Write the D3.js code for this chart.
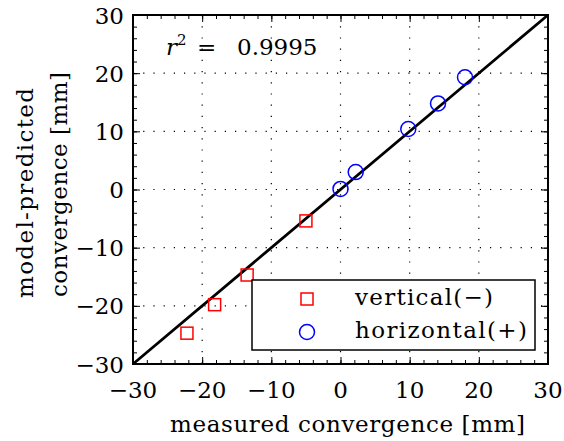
<!DOCTYPE html>
<html>
<head>
<meta charset="utf-8">
<script src="https://cdn.jsdelivr.net/npm/d3@7"></script>
<style>
body { margin: 0; background: #fff; }
text { font-family: "DejaVu Serif", serif; fill: #000; }
</style>
</head>
<body>
<div id="vis_canvas"></div>
<script>
// data
var vert_x = [-22.2, -18.2, -13.5, -5.0];
var vert_y = [-24.7, -19.8, -14.7, -5.4];
var horiz_x = [0.0, 2.2, 9.8, 14.1, 18.0];
var horiz_y = [0.1, 3.0, 10.4, 14.8, 19.3];
var ticks = [-30, -20, -10, 0, 10, 20, 30];
var minor_ticks = d3.range(-30, 31, 2);
var r2_text = "0.9995";
var legend_labels = ["vertical(\u2212)", "horizontal(+)"];

var W = 564, H = 441;
var m_left = 133, m_right = 548, m_top = 15, m_bottom = 364;
var fs = "23px";

var x = d3.scaleLinear().domain([-30, 30]).range([m_left, m_right]);
var y = d3.scaleLinear().domain([-30, 30]).range([m_bottom, m_top]);

var svg = d3.select("#vis_canvas").append("svg")
    .attr("width", W).attr("height", H);

// dotted grid
svg.append("g").selectAll("line").data(ticks.slice(1, -1)).enter()
    .append("line")
    .attr("x1", function(d){ return x(d); }).attr("x2", function(d){ return x(d); })
    .attr("y1", m_top).attr("y2", m_bottom)
    .attr("stroke", "#000").attr("stroke-width", 1.2)
    .attr("stroke-dasharray", "1.2,10");
svg.append("g").selectAll("line").data(ticks.slice(1, -1)).enter()
    .append("line")
    .attr("y1", function(d){ return y(d); }).attr("y2", function(d){ return y(d); })
    .attr("x1", m_left).attr("x2", m_right)
    .attr("stroke", "#000").attr("stroke-width", 1.2)
    .attr("stroke-dasharray", "1.2,9");

// axes (ticks inward, minor ticks too)
var fmt = function(d){ return d < 0 ? "\u2212" + Math.abs(d) : d; };
function ax(gen, tx, ty, size, vals) {
  var g = svg.append("g").attr("transform", "translate(" + tx + "," + ty + ")")
    .call(gen.tickValues(vals).tickSize(size).tickSizeOuter(0).tickFormat(""));
  g.select(".domain").remove();
  g.selectAll(".tick line").attr("stroke", "#000").attr("stroke-width", 1);
  return g;
}
ax(d3.axisTop(x), 0, m_bottom, 4, minor_ticks);
ax(d3.axisTop(x), 0, m_bottom, 7, ticks);
ax(d3.axisBottom(x), 0, m_top, 4, minor_ticks);
ax(d3.axisBottom(x), 0, m_top, 7, ticks);
ax(d3.axisRight(y), m_left, 0, 4, minor_ticks);
ax(d3.axisRight(y), m_left, 0, 7, ticks);
ax(d3.axisLeft(y), m_right, 0, 4, minor_ticks);
ax(d3.axisLeft(y), m_right, 0, 7, ticks);

// tick labels
svg.append("g").selectAll("text").data(ticks).enter().append("text")
    .attr("x", function(d){ return x(d); }).attr("y", m_bottom + 34)
    .attr("text-anchor", "middle").style("font-size", fs)
    .text(fmt);
svg.append("g").selectAll("text").data(ticks).enter().append("text")
    .attr("x", m_left - 9).attr("y", function(d){ return y(d) + 8.5; })
    .attr("text-anchor", "end").style("font-size", fs)
    .text(fmt);

// frame
svg.append("rect").attr("x", m_left).attr("y", m_top)
    .attr("width", m_right - m_left).attr("height", m_bottom - m_top)
    .attr("fill", "none").attr("stroke", "#000").attr("stroke-width", 2);

// 1:1 line
svg.append("line")
    .attr("x1", x(-30)).attr("y1", y(-30)).attr("x2", x(30)).attr("y2", y(30))
    .attr("stroke", "#000").attr("stroke-width", 2.8);

// r^2 label
var rt = svg.append("text").attr("y", 55).style("font-size", fs);
rt.append("tspan").attr("x", 166).style("font-style", "italic").text("r");
rt.append("tspan").attr("dy", -10).style("font-size", "15px").text("2");
rt.append("tspan").attr("dy", 10).attr("x", 197).text("=");
rt.append("tspan").attr("x", 237).text(r2_text);

// points
var vdata = vert_x.map(function(d, i){ return {x: d, y: vert_y[i]}; });
var hdata = horiz_x.map(function(d, i){ return {x: d, y: horiz_y[i]}; });
var sq = 12;
svg.selectAll(".vsq").data(vdata).enter().append("rect")
    .attr("class", "vsq")
    .attr("x", function(d){ return x(d.x) - sq / 2; })
    .attr("y", function(d){ return y(d.y) - sq / 2; })
    .attr("width", sq).attr("height", sq)
    .attr("fill", "none").attr("stroke", "#ff0000").attr("stroke-width", 1.5);
svg.selectAll(".hci").data(hdata).enter().append("circle")
    .attr("class", "hci")
    .attr("cx", function(d){ return x(d.x); })
    .attr("cy", function(d){ return y(d.y); })
    .attr("r", 7.5)
    .attr("fill", "none").attr("stroke", "#0000ff").attr("stroke-width", 1.5);

// legend
var lg = svg.append("g");
lg.append("rect").attr("x", 252).attr("y", 280).attr("width", 283).attr("height", 70)
    .attr("fill", "#fff").attr("stroke", "#000").attr("stroke-width", 1.5);
lg.append("rect").attr("x", 307 - sq / 2).attr("y", 299 - sq / 2).attr("width", sq).attr("height", sq)
    .attr("fill", "none").attr("stroke", "#ff0000").attr("stroke-width", 1.5);
lg.append("circle").attr("cx", 307).attr("cy", 332).attr("r", 7.5)
    .attr("fill", "none").attr("stroke", "#0000ff").attr("stroke-width", 1.5);
lg.append("text").attr("x", 355).attr("y", 305).style("font-size", fs)
    .attr("textLength", 138).attr("lengthAdjust", "spacing").text(legend_labels[0]);
lg.append("text").attr("x", 355).attr("y", 338).style("font-size", fs)
    .attr("textLength", 172).attr("lengthAdjust", "spacing").text(legend_labels[1]);

// axis labels
svg.append("text").attr("x", 170).attr("y", 432)
    .style("font-size", fs).attr("textLength", 355).attr("lengthAdjust", "spacing")
    .text("measured convergence [mm]");
svg.append("text").attr("transform", "translate(33,298) rotate(-90)")
    .style("font-size", fs).attr("textLength", 210).attr("lengthAdjust", "spacing")
    .text("model-predicted");
svg.append("text").attr("transform", "translate(67,297) rotate(-90)")
    .style("font-size", fs).attr("textLength", 225).attr("lengthAdjust", "spacing")
    .text("convergence [mm]");
</script>
</body>
</html>
